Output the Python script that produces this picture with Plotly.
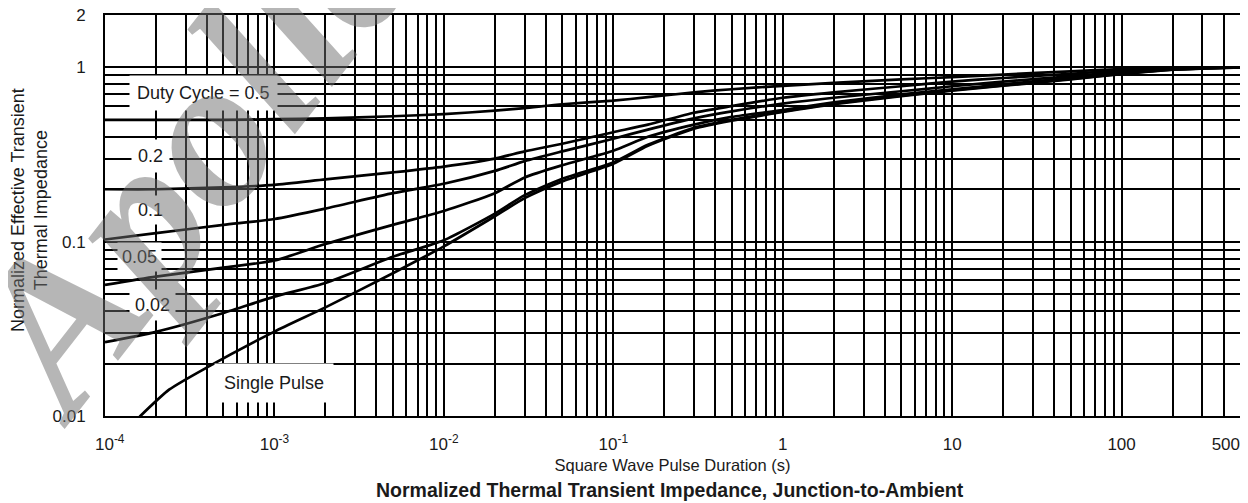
import math
import plotly.graph_objects as go

# ---------------- data ----------------
pulse_s = [1e-4, 2e-4, 5e-4, 1e-3, 2e-3, 5e-3, 1e-2, 2e-2, 3e-2, 5e-2, 0.1, 0.16,
           0.3, 0.5, 1, 2, 5, 10, 20, 50, 100, 200, 500]

duty_05 = [0.50, 0.50, 0.50, 0.505, 0.51, 0.525, 0.54, 0.565, 0.585, 0.615, 0.645, 0.675,
           0.72, 0.75, 0.785, 0.815, 0.855, 0.88, 0.91, 0.95, 0.98, 1.0, 1.0]
duty_02 = [0.20, 0.20, 0.205, 0.212, 0.228, 0.25, 0.27, 0.30, 0.33, 0.365, 0.425, 0.47,
           0.55, 0.60, 0.67, 0.72, 0.78, 0.83, 0.87, 0.92, 0.96, 0.99, 1.0]
duty_01 = [0.103, 0.112, 0.125, 0.135, 0.155, 0.19, 0.215, 0.255, 0.29, 0.33, 0.39, 0.44,
           0.51, 0.56, 0.62, 0.67, 0.73, 0.78, 0.83, 0.89, 0.94, 0.98, 1.0]
duty_005 = [0.0565, 0.063, 0.071, 0.078, 0.097, 0.125, 0.15, 0.19, 0.234, 0.275, 0.333, 0.40,
            0.47, 0.52, 0.57, 0.63, 0.70, 0.75, 0.80, 0.87, 0.925, 0.975, 1.0]
duty_002 = [0.0265, 0.0304, 0.039, 0.0484, 0.058, 0.082, 0.102, 0.145, 0.185, 0.23, 0.285, 0.36,
            0.45, 0.50, 0.56, 0.62, 0.69, 0.74, 0.79, 0.86, 0.92, 0.97, 1.0]

single_pulse_s = [1.6e-4, 2.4e-4, 4e-4, 1e-3, 2e-3, 5e-3, 1e-2, 2e-2, 3e-2, 5e-2, 0.1, 0.16,
                  0.3, 0.5, 1, 2, 5, 10, 20, 50, 100, 200, 500]
single_pulse = [0.0099, 0.0142, 0.019, 0.0305, 0.042, 0.066, 0.094, 0.14, 0.178, 0.222, 0.28, 0.355,
                0.445, 0.495, 0.555, 0.615, 0.685, 0.735, 0.785, 0.855, 0.915, 0.97, 1.0]

x_tick_vals = [1e-4, 1e-3, 1e-2, 1e-1, 1, 10, 100, 500]
x_tick_text = ["\u00a0\u00a010<sup>-4</sup>", "10<sup>-3</sup>", "10<sup>-2</sup>", "10<sup>-1</sup>",
               "1", "10", "100", "500\u00a0\u00a0\u00a0\u00a0\u00a0\u00a0"]
y_tick_vals = [0.01, 0.1, 1, 2]
y_tick_text = ["0.01", "0.1", "1", "2"]

x_minor = [m * 10 ** e for e in range(-4, 3) for m in range(2, 10) if m * 10 ** e < 500]
y_minor = [m * 10 ** e for e in (-2, -1) for m in range(2, 10)]

series = [
    ("Duty Cycle = 0.5", pulse_s, duty_05),
    ("0.2", pulse_s, duty_02),
    ("0.1", pulse_s, duty_01),
    ("0.05", pulse_s, duty_005),
    ("0.02", pulse_s, duty_002),
    ("Single Pulse", single_pulse_s, single_pulse),
]

FONT = "Liberation Sans, Arial, sans-serif"
INK = "#1a1a1a"

fig = go.Figure()
for name, xs, ys in series:
    fig.add_trace(go.Scatter(x=xs, y=ys, mode="lines", name=name,
                             line=dict(color="black", width=2.7, shape="spline", smoothing=0.6),
                             showlegend=False, hoverinfo="skip"))

grid_col = "#000000"
GW = 1.7
fig.update_xaxes(type="log", range=[-4, math.log10(500) + 1e-6], automargin=False,
                 tickvals=x_tick_vals, ticktext=x_tick_text, ticklabeloverflow="allow",
                 showgrid=True, gridcolor=grid_col, gridwidth=GW,
                 minor=dict(tickvals=x_minor, showgrid=True, gridcolor=grid_col, gridwidth=GW, ticks=""),
                 ticks="", ticklabelstandoff=12,
                 showline=True, linecolor="black", linewidth=2, mirror=True,
                 tickfont=dict(family=FONT, size=17, color=INK),
                 title=dict(text="Square Wave Pulse Duration (s)", standoff=6,
                            font=dict(family=FONT, size=16.5, color=INK)),
                 zeroline=False)
fig.update_yaxes(type="log", range=[-2, math.log10(2) + 1e-6], automargin=False,
                 tickvals=y_tick_vals, ticktext=y_tick_text, ticklabeloverflow="allow",
                 showgrid=True, gridcolor=grid_col, gridwidth=GW,
                 minor=dict(tickvals=y_minor, showgrid=True, gridcolor=grid_col, gridwidth=GW, ticks=""),
                 ticks="", ticklabelstandoff=14,
                 showline=True, linecolor="black", linewidth=2, mirror=True,
                 tickfont=dict(family=FONT, size=17, color=INK),
                 zeroline=False)

# plot area in screen pixels (page body has an 8px offset)
L, T, W, H = 105, 15, 1135, 401

# curve labels (white boxes)
labels = [
    ("Duty Cycle = 0.5", 203, 93, 7),
    ("0.2", 150, 156, 6),
    ("0.1", 150, 210, 4),
    ("0.05", 139, 257, 4),
    ("0.02", 152, 305, 5),
    ("Single Pulse", 274, 383, 9),
]
for txt, px, py, pad in labels:
    fig.add_annotation(x=(px - L) / W, y=(T + H - py) / H, xref="paper", yref="paper",
                       xanchor="center", yanchor="middle",
                       text=txt, showarrow=False, bgcolor="white", borderpad=pad,
                       font=dict(family=FONT, size=18, color=INK))

# y axis title (two lines)
fig.add_annotation(x=(29 - L) / W, y=(T + H - 210) / H, xref="paper", yref="paper",
                   xanchor="center", yanchor="middle",
                   text="Normalized Effective Transient<br>Thermal Impedance", textangle=-90,
                   showarrow=False, font=dict(family=FONT, size=18, color=INK))

# caption
fig.add_annotation(x=(670 - L) / W, y=(T + H - 490) / H, xref="paper", yref="paper",
                   xanchor="center", yanchor="middle",
                   text="<b>Normalized Thermal Transient Impedance, Junction-to-Ambient</b>",
                   showarrow=False, font=dict(family=FONT, size=19.5, color=INK))

# watermark
fig.add_annotation(x=(190 - L) / W, y=(T + H - 150) / H, xref="paper", yref="paper",
                   xanchor="center", yanchor="middle",
                   text="Apollo", textangle=-52, showarrow=False,
                   font=dict(family="Liberation Serif, serif", size=215, color="rgba(110,110,110,0.5)",
                             style="italic", weight="bold"))

fig.update_layout(width=1240, height=495, margin=dict(l=L - 8, r=8, t=T - 8, b=87),
                  paper_bgcolor="white", plot_bgcolor="white")

fig.write_html("out.html")
